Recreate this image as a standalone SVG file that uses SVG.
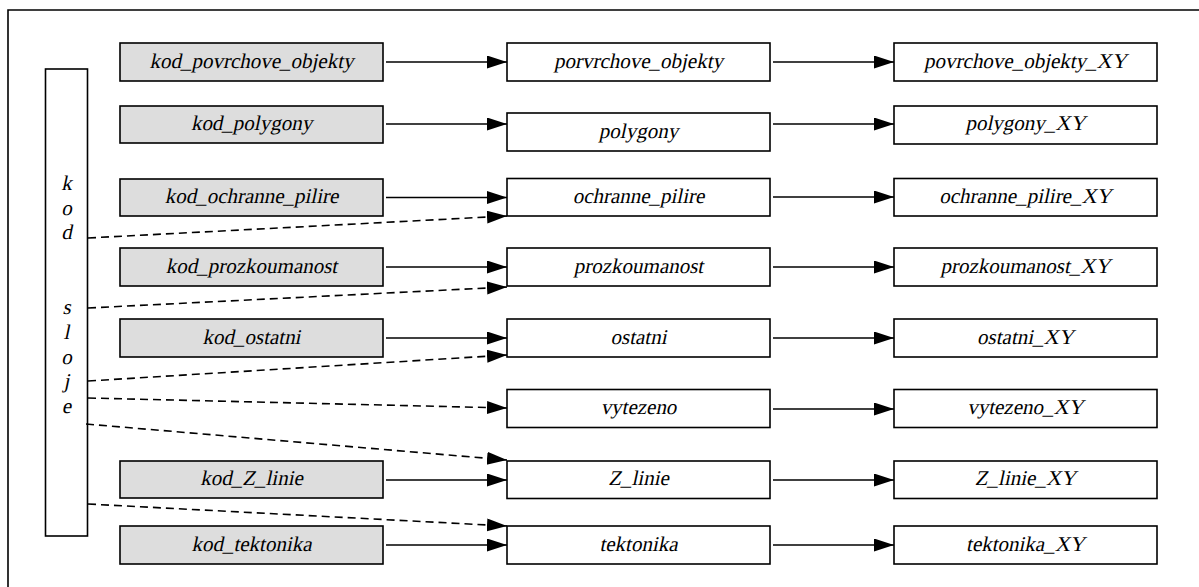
<svg xmlns="http://www.w3.org/2000/svg" width="1199" height="587" viewBox="0 0 1199 587">
<style>
.box{fill:#ffffff;stroke:#000;stroke-width:1.6}
.g{fill:#dddddd}
.t{font-family:'Liberation Serif',serif;font-size:21px;text-anchor:middle;fill:#000}
.c{stroke:#000;stroke-width:1.6;fill:none;marker-end:url(#ah)}
.d{stroke-dasharray:8,5}
</style>
<defs>
<marker id="ah" markerUnits="userSpaceOnUse" markerWidth="22" markerHeight="14" refX="20" refY="6.5" orient="auto">
<path d="M0,0 L20,6.5 L0,13 z" fill="#000"/>
</marker>
</defs>
<rect width="1199" height="587" fill="#fff"/>
<path d="M8,600 L8,10 L1210,10" fill="none" stroke="#000" stroke-width="1.6"/>

<g id="kod_sloje">
<rect class="box" x="45.5" y="69" width="42" height="467"/>
<text class="t" transform="translate(66.5,190) skewX(-12)">k</text>
<text class="t" transform="translate(66.5,215) skewX(-12)">o</text>
<text class="t" transform="translate(66.5,239) skewX(-12)">d</text>
<text class="t" transform="translate(66.5,314) skewX(-12)">s</text>
<text class="t" transform="translate(66.5,339) skewX(-12)">l</text>
<text class="t" transform="translate(66.5,364) skewX(-12)">o</text>
<text class="t" transform="translate(66.5,388) skewX(-12)">j</text>
<text class="t" transform="translate(66.5,413) skewX(-12)">e</text>
</g>

<g id="kod_povrchove_objekty"><rect class="box g" x="120" y="43" width="263" height="38"/><text class="t" transform="translate(251.5,68) skewX(-12)">kod_povrchove_objekty</text></g>
<g id="kod_polygony"><rect class="box g" x="120" y="106" width="263" height="37"/><text class="t" transform="translate(251.5,130) skewX(-12)">kod_polygony</text></g>
<g id="kod_ochranne_pilire"><rect class="box g" x="120" y="179" width="263" height="37"/><text class="t" transform="translate(251.5,203) skewX(-12)">kod_ochranne_pilire</text></g>
<g id="kod_prozkoumanost"><rect class="box g" x="120" y="248" width="263" height="38"/><text class="t" transform="translate(251.5,273) skewX(-12)">kod_prozkoumanost</text></g>
<g id="kod_ostatni"><rect class="box g" x="120" y="319" width="263" height="38"/><text class="t" transform="translate(251.5,344) skewX(-12)">kod_ostatni</text></g>
<g id="kod_Z_linie"><rect class="box g" x="120" y="461" width="263" height="37"/><text class="t" transform="translate(251.5,485) skewX(-12)">kod_Z_linie</text></g>
<g id="kod_tektonika"><rect class="box g" x="120" y="526" width="263" height="38"/><text class="t" transform="translate(251.5,551) skewX(-12)">kod_tektonika</text></g>

<g id="porvrchove_objekty"><rect class="box" x="507" y="43" width="263" height="38"/><text class="t" transform="translate(638.5,68) skewX(-12)">porvrchove_objekty</text></g>
<g id="polygony"><rect class="box" x="507" y="113" width="263" height="38"/><text class="t" transform="translate(638.5,138) skewX(-12)">polygony</text></g>
<g id="ochranne_pilire"><rect class="box" x="507" y="178.5" width="263" height="37.5"/><text class="t" transform="translate(638.5,203) skewX(-12)">ochranne_pilire</text></g>
<g id="prozkoumanost"><rect class="box" x="507" y="248" width="263" height="38"/><text class="t" transform="translate(638.5,273) skewX(-12)">prozkoumanost</text></g>
<g id="ostatni"><rect class="box" x="507" y="319" width="263" height="38"/><text class="t" transform="translate(638.5,344) skewX(-12)">ostatni</text></g>
<g id="vytezeno"><rect class="box" x="507" y="389.5" width="263" height="38"/><text class="t" transform="translate(638.5,414) skewX(-12)">vytezeno</text></g>
<g id="Z_linie"><rect class="box" x="507" y="461" width="263" height="37.5"/><text class="t" transform="translate(638.5,485) skewX(-12)">Z_linie</text></g>
<g id="tektonika"><rect class="box" x="507" y="526" width="263" height="38"/><text class="t" transform="translate(638.5,551) skewX(-12)">tektonika</text></g>

<g id="povrchove_objekty_XY"><rect class="box" x="894" y="43" width="263" height="38"/><text class="t" transform="translate(1025.5,68) skewX(-12)">povrchove_objekty_XY</text></g>
<g id="polygony_XY"><rect class="box" x="894" y="106" width="263" height="38"/><text class="t" transform="translate(1025.5,130) skewX(-12)">polygony_XY</text></g>
<g id="ochranne_pilire_XY"><rect class="box" x="894" y="178.5" width="263" height="37.5"/><text class="t" transform="translate(1025.5,203) skewX(-12)">ochranne_pilire_XY</text></g>
<g id="prozkoumanost_XY"><rect class="box" x="894" y="248" width="263" height="38"/><text class="t" transform="translate(1025.5,273) skewX(-12)">prozkoumanost_XY</text></g>
<g id="ostatni_XY"><rect class="box" x="894" y="319" width="263" height="38"/><text class="t" transform="translate(1025.5,344) skewX(-12)">ostatni_XY</text></g>
<g id="vytezeno_XY"><rect class="box" x="894" y="389.5" width="263" height="38"/><text class="t" transform="translate(1025.5,414) skewX(-12)">vytezeno_XY</text></g>
<g id="Z_linie_XY"><rect class="box" x="894" y="461" width="263" height="37.5"/><text class="t" transform="translate(1025.5,485) skewX(-12)">Z_linie_XY</text></g>
<g id="tektonika_XY"><rect class="box" x="894" y="526" width="263" height="38"/><text class="t" transform="translate(1025.5,551) skewX(-12)">tektonika_XY</text></g>

<g id="connectors">
<line class="c" x1="386" y1="62" x2="507" y2="62"/>
<line class="c" x1="386" y1="124" x2="507" y2="124"/>
<line class="c" x1="386" y1="197.5" x2="507" y2="197.5"/>
<line class="c" x1="386" y1="267" x2="507" y2="267"/>
<line class="c" x1="386" y1="338" x2="507" y2="338"/>
<line class="c" x1="386" y1="480" x2="507" y2="480"/>
<line class="c" x1="386" y1="545" x2="507" y2="545"/>

<line class="c" x1="773" y1="62" x2="894" y2="62"/>
<line class="c" x1="773" y1="124" x2="894" y2="124"/>
<line class="c" x1="773" y1="197" x2="894" y2="197"/>
<line class="c" x1="773" y1="267" x2="894" y2="267"/>
<line class="c" x1="773" y1="338" x2="894" y2="338"/>
<line class="c" x1="773" y1="409" x2="894" y2="409"/>
<line class="c" x1="773" y1="480" x2="894" y2="480"/>
<line class="c" x1="773" y1="545" x2="894" y2="545"/>

<line class="c d" x1="88" y1="238" x2="507" y2="216"/>
<line class="c d" x1="88" y1="308" x2="507" y2="287"/>
<line class="c d" x1="88" y1="381" x2="507" y2="355"/>
<line class="c d" x1="88" y1="398" x2="507" y2="408"/>
<line class="c d" x1="86" y1="424" x2="507" y2="460"/>
<line class="c d" x1="88" y1="504" x2="507" y2="526"/>
</g>
</svg>
